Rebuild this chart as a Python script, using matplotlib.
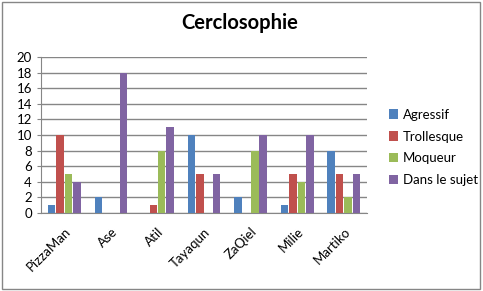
import numpy as np
import matplotlib
matplotlib.use('Agg')
import matplotlib.pyplot as plt
from matplotlib.patches import Rectangle

plt.rcParams['font.family'] = ['Lato', 'DejaVu Sans']

# Data
names = ['PizzaMan', 'Ase', 'Atil', 'Tayaqun', 'ZaQiel', 'Milie', 'Martiko']
agressif = [1, 2, 0, 10, 2, 1, 8]
trollesque = [10, 0, 1, 5, 0, 5, 5]
moqueur = [5, 0, 8, 0, 8, 4, 2]
dans_le_sujet = [4, 18, 11, 5, 10, 10, 5]
series_names = ['Agressif', 'Trollesque', 'Moqueur', 'Dans le sujet']
colors = ['#4F81BD', '#C0504D', '#9BBB59', '#8064A2']

fig = plt.figure(figsize=(4.83, 2.91), dpi=100)
ax = fig.add_axes([0.085, 0.268, 0.675, 0.536])

x = np.arange(len(names))
w = 0.16
step = 0.18
all_series = [agressif, trollesque, moqueur, dans_le_sujet]
for i, (vals, lab, c) in enumerate(zip(all_series, series_names, colors)):
    ax.bar(x + (i - 1.5) * step, vals, width=w, color=c, label=lab, zorder=3)

ax.set_xlim(-0.5, len(names) - 0.5)
ax.set_ylim(0, 20)
ax.set_yticks(np.arange(0, 21, 2))
ax.yaxis.grid(True, color='#868686', linewidth=1, zorder=0)
ax.set_xticks(x)
ax.set_xticklabels(names, rotation=45, ha='right', rotation_mode='anchor', fontsize=9.5)
ax.tick_params(axis='y', labelsize=9.5, length=3, color='#868686')
ax.tick_params(axis='x', length=0, pad=9)
for s in ['top', 'right']:
    ax.spines[s].set_visible(False)
for s in ['left', 'bottom']:
    ax.spines[s].set_color('#868686')

fig.suptitle('Cerclosophie', x=0.497, y=0.955, fontsize=14.5, fontweight='bold')

ax.legend(loc='center left', bbox_to_anchor=(1.03, 0.42), frameon=False,
          fontsize=9.5, handlelength=0.7, handleheight=0.7, handletextpad=0.4,
          labelspacing=0.75)

fig.patches.append(Rectangle((0.004, 0.007), 0.99, 0.986, transform=fig.transFigure,
                             fill=False, edgecolor='#868686', linewidth=1))

fig.savefig('out.png', dpi=100)
